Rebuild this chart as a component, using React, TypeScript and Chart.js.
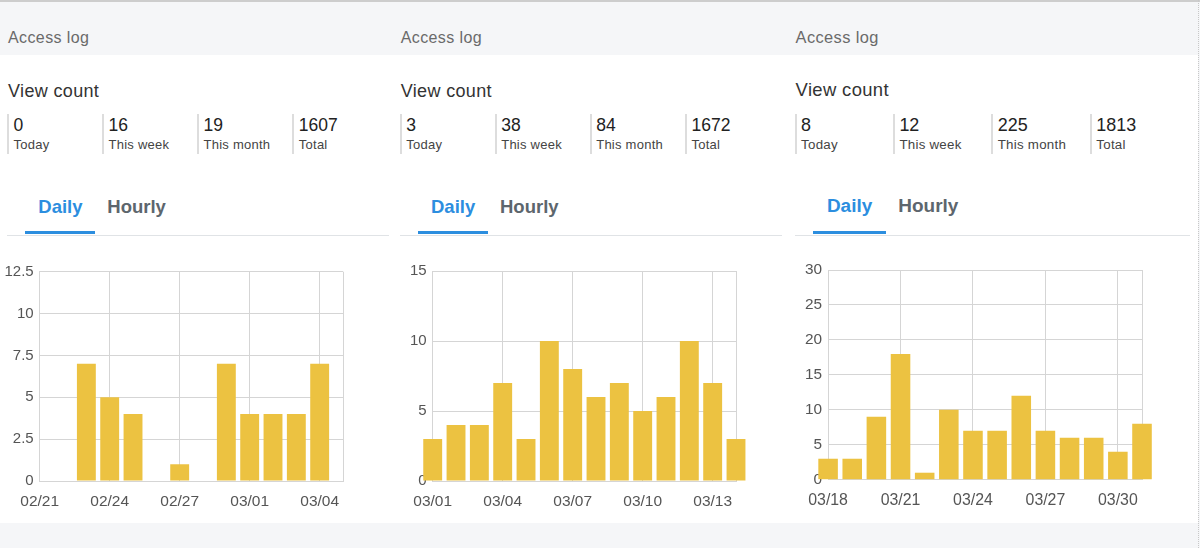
import React, { useEffect, useRef } from 'react';
import { Chart, registerables } from 'chart.js';

Chart.register(...registerables);

const FONT = '"Liberation Sans", Arial, Helvetica, sans-serif';

// ---- data ----
const statLabels = ['Today', 'This week', 'This month', 'Total'];

const stats1 = [0, 16, 19, 1607];
const dates1 = ['02/21', '02/22', '02/23', '02/24', '02/25', '02/26', '02/27', '02/28', '02/29', '03/01', '03/02', '03/03', '03/04', '03/05'];
const views1 = [0, 0, 7, 5, 4, 0, 1, 0, 7, 4, 4, 4, 7, 0];
const yTicks1 = [0, 2.5, 5, 7.5, 10, 12.5];

const stats2 = [3, 38, 84, 1672];
const dates2 = ['03/01', '03/02', '03/03', '03/04', '03/05', '03/06', '03/07', '03/08', '03/09', '03/10', '03/11', '03/12', '03/13', '03/14'];
const views2 = [3, 4, 4, 7, 3, 10, 8, 6, 7, 5, 6, 10, 7, 3];
const yTicks2 = [0, 5, 10, 15];

const stats3 = [8, 12, 225, 1813];
const dates3 = ['03/18', '03/19', '03/20', '03/21', '03/22', '03/23', '03/24', '03/25', '03/26', '03/27', '03/28', '03/29', '03/30', '03/31'];
const views3 = [3, 3, 9, 18, 1, 10, 7, 7, 12, 7, 6, 6, 4, 8];
const yTicks3 = [0, 5, 10, 15, 20, 25, 30];

// ---- styles ----
const BAR = '#ecc241';
const GRID = '#d5d5d5';
const TICK = '#555555';
const GRAY_BG = '#f5f6f8';

type ChartProps = {
  dates: string[];
  values: number[];
  yTicks: number[];
  left: number;
  top: number;
  width: number;
  height: number;
  plotLeft: number;
  plotRight: number;
  plotTop: number;
  plotBottom: number;
  fs: number;
};

function BarChart(p: ChartProps) {
  const ref = useRef<HTMLCanvasElement>(null);
  useEffect(() => {
    const n = p.dates.length;
    const chart = new Chart(ref.current as HTMLCanvasElement, {
      type: 'bar',
      data: {
        labels: p.dates,
        datasets: [
          {
            data: p.values,
            backgroundColor: BAR,
            borderWidth: 0,
            barPercentage: 0.9,
            categoryPercentage: 0.9,
            clip: false as any,
          },
        ],
      },
      options: {
        animation: false,
        responsive: false,
        maintainAspectRatio: false,
        layout: { padding: { left: 0, top: p.plotTop, right: p.width - p.plotRight, bottom: 0 } },
        plugins: { legend: { display: false }, tooltip: { enabled: false } },
        scales: {
          x: {
            type: 'category',
            offset: false,
            grid: {
              offset: false,
              drawTicks: false,
              color: (c: any) => (c.index % 3 === 0 || c.index === n - 1 ? GRID : 'rgba(0,0,0,0)'),
            },
            border: { color: GRID },
            ticks: {
              autoSkip: false,
              maxRotation: 0,
              minRotation: 0,
              padding: 11,
              color: TICK,
              font: { family: FONT, size: 15.5 * p.fs },
              callback: (_v: any, i: number) => (i % 3 === 0 ? p.dates[i] : ''),
            },
            afterFit: (s: any) => {
              s.height = p.height - p.plotBottom;
            },
          },
          y: {
            min: 0,
            max: p.yTicks[p.yTicks.length - 1],
            grid: { drawTicks: false, color: GRID },
            border: { color: GRID },
            ticks: {
              stepSize: p.yTicks[1] - p.yTicks[0],
              padding: 6,
              color: TICK,
              font: { family: FONT, size: 15 * p.fs },
              callback: (v: any) => String(v),
            },
            afterFit: (s: any) => {
              s.width = p.plotLeft;
            },
          },
        },
      },
    } as any);
    return () => chart.destroy();
  }, []);
  return (
    <canvas
      ref={ref}
      width={p.width}
      height={p.height}
      style={{ position: 'absolute', left: p.left, top: p.top, width: p.width, height: p.height }}
    />
  );
}

type PanelProps = {
  x0: number;
  s: number;
  fs: number;
  stats: number[];
  dates: string[];
  views: number[];
  yTicks: number[];
  plotTop: number;
  plotBottom: number;
};

function txt(left: number, baseline: number, size: number, color: string, text: string, weight = 400, ls = 0) {
  return (
    <div
      style={{
        position: 'absolute',
        left,
        top: baseline - 0.8465 * size,
        fontSize: size,
        lineHeight: `${size}px`,
        color,
        fontWeight: weight,
        whiteSpace: 'nowrap',
        fontFamily: FONT,
        letterSpacing: ls,
      }}
    >
      {text}
    </div>
  );
}

function Panel(p: PanelProps) {
  const X = (v: number) => p.x0 + v * p.s;
  const cols = [8, 103, 198, 293.3];
  const canvasTop = 250;
  const cw = Math.round(390 * p.s);
  return (
    <>
      {txt(X(8), 43.3, 16 * p.fs, '#6a6a6a', 'Access log', 400, 0.4)}
      {txt(X(8), 96.8, 18 * p.fs, '#333333', 'View count', 400, 0.35)}
      {cols.map((c, i) => (
        <React.Fragment key={i}>
          <div
            style={{
              position: 'absolute',
              left: X(c) - 1,
              top: 114,
              width: 2,
              height: 40,
              background: '#dddddd',
            }}
          />
          {txt(X(c) + 5.5, 132, 17.5 * p.fs, '#222222', String(p.stats[i]))}
          {txt(X(c) + 5.5, 149.5, 13 * p.fs, '#444444', statLabels[i], 400, 0.25)}
        </React.Fragment>
      ))}
      {txt(X(38.3), 213.3, 18.5 * p.fs, '#2c8edf', 'Daily', 700)}
      {txt(X(107.3), 213.3, 18.5 * p.fs, '#5d666d', 'Hourly', 700)}
      <div style={{ position: 'absolute', left: X(7), top: 234.5, width: 382 * p.s, height: 1, background: '#e0e3e6' }} />
      <div style={{ position: 'absolute', left: X(25), top: 231, width: 70 * p.s, height: 3.3, background: '#2c8edf' }} />
      <BarChart
        dates={p.dates}
        values={p.views}
        yTicks={p.yTicks}
        left={X(0)}
        top={canvasTop}
        width={cw}
        height={275}
        plotLeft={39.7 * p.s}
        plotRight={343 * p.s}
        plotTop={p.plotTop - canvasTop}
        plotBottom={p.plotBottom - canvasTop}
        fs={p.fs}
      />
    </>
  );
}

export default function App() {
  return (
    <div
      style={{
        position: 'absolute',
        left: 0,
        top: 0,
        width: 1200,
        height: 548,
        background: GRAY_BG,
        overflow: 'hidden',
        fontFamily: FONT,
      }}
    >
      <div style={{ position: 'absolute', left: 0, top: 0, width: 1200, height: 1.5, background: '#cdcdcd' }} />
      <div style={{ position: 'absolute', left: 0, top: 55, width: 1198, height: 467.5, background: '#ffffff' }} />
      <div style={{ position: 'absolute', left: 1198, top: 0, width: 0, height: 548, borderLeft: '1px dotted #c8c8c8' }} />
      <Panel x0={0} s={1} fs={1} stats={stats1} dates={dates1} views={views1} yTicks={yTicks1} plotTop={271.7} plotBottom={481} />
      <Panel x0={392.7} s={1} fs={1} stats={stats2} dates={dates2} views={views2} yTicks={yTicks2} plotTop={271} plotBottom={481} />
      <Panel x0={787.3} s={1.035} fs={1.025} stats={stats3} dates={dates3} views={views3} yTicks={yTicks3} plotTop={270} plotBottom={479.7} />
    </div>
  );
}
